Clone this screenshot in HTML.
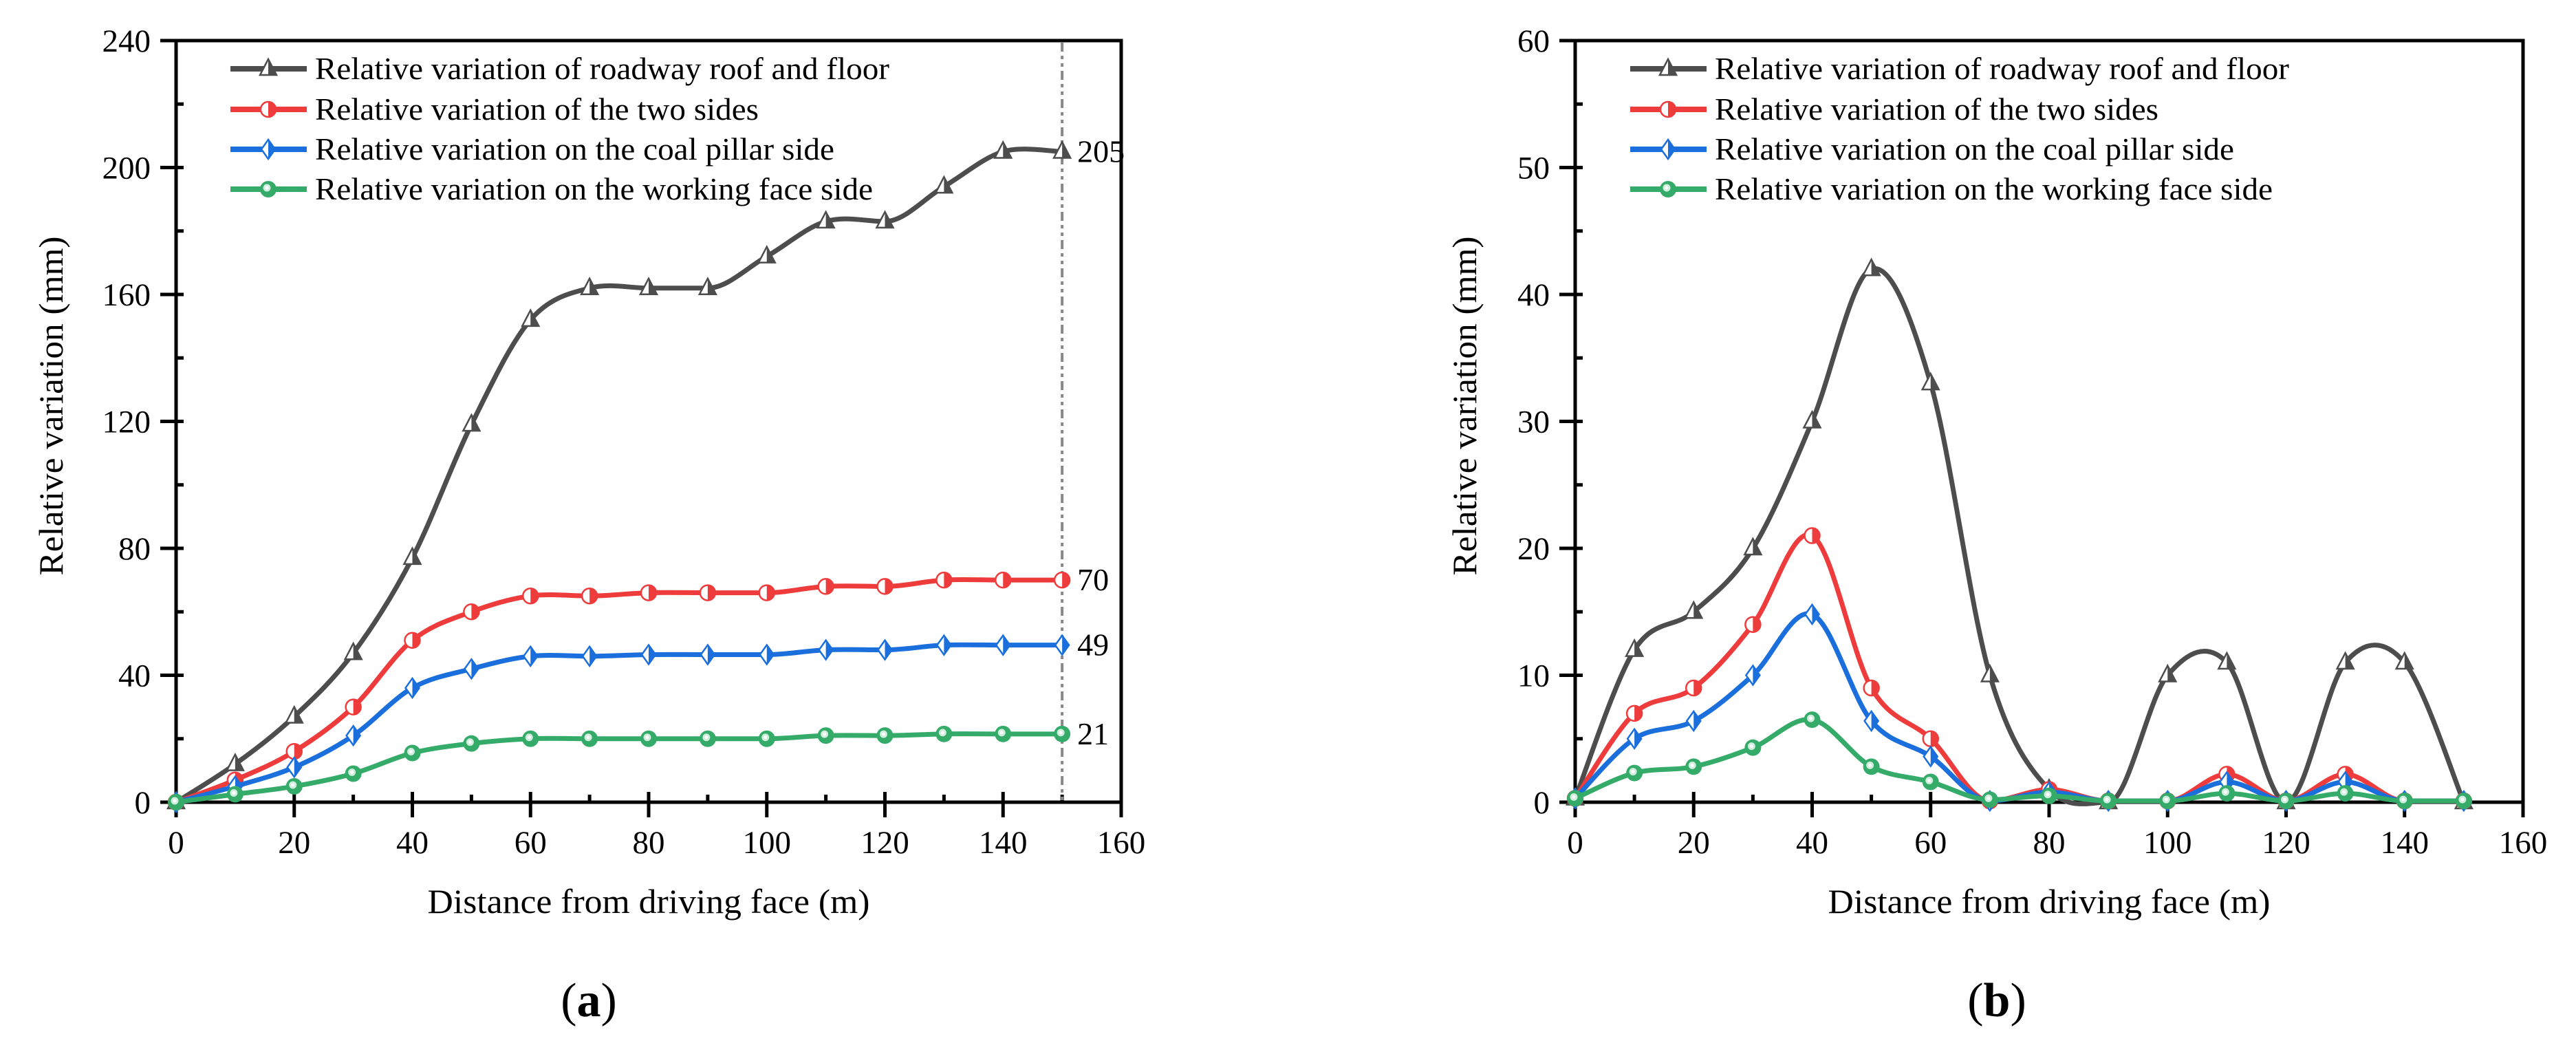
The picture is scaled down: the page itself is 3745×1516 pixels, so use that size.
<!DOCTYPE html>
<html><head><meta charset="utf-8">
<style>
html,body{margin:0;padding:0;background:#fff;}
svg{display:block;font-family:"Liberation Serif","DejaVu Serif",serif;}
</style></head>
<body>
<svg id="fig" width="3745" height="1516" viewBox="0 0 3745 1516" xmlns="http://www.w3.org/2000/svg">
<g id="chartA"></g>
<g id="chartB"></g>
</svg>
<script>
// ---- data ----
const distances = [0,10,20,30,40,50,60,70,80,90,100,110,120,130,140,150];
const aRoof = [0,12,27,47,77,119,152,162,162,162,172,183,183,194,205,205];
const aSides = [0,7,16,30,51,60,65,65,66,66,66,68,68,70,70,70];
const aCoal = [0,5,11,21,36,42,46,46,46.5,46.5,46.5,48,48,49.5,49.5,49.5];
const aWork = [0,2.5,5,9,15.5,18.5,20,20,20,20,20,21,21,21.5,21.5,21.5];
const aEndLabels = ["205","70","49","21"];
const bRoof = [0.3,12,15,20,30,42,33,10,1,0,10,11,0,11,11,0];
const bSides = [0.3,7,9,14,21,9,5,0.1,1,0.1,0.1,2.2,0.1,2.2,0.1,0.1];
const bCoal = [0.3,5,6.4,10,14.8,6.4,3.6,0.1,0.8,0.1,0.1,1.6,0.1,1.6,0.1,0.1];
const bWork = [0.3,2.3,2.8,4.3,6.5,2.8,1.6,0.2,0.5,0.1,0.1,0.7,0.1,0.7,0.1,0.1];
const xTicks = [0,20,40,60,80,100,120,140,160];
const aYTicks = [0,40,80,120,160,200,240];
const bYTicks = [0,10,20,30,40,50,60];
const legendLabels = ["Relative variation of roadway roof and floor","Relative variation of the two sides","Relative variation on the coal pillar side","Relative variation on the working face side"];

const NS="http://www.w3.org/2000/svg";
const COLORS=["#4d4d4d","#ee3b3b","#1b6fdc","#35ab69"];
const MARK=["tri","circ","diam","ball"];
const LEG_LEN=[835,645,755,811];
function mk(tag,attrs,parent){const e=document.createElementNS(NS,tag);for(const k in attrs)e.setAttribute(k,attrs[k]);parent.appendChild(e);return e;}

function marker(g,type,x,y,c){
  const m=document.createElementNS(NS,'g');
  
  
  g.appendChild(m);
  if(type==='tri'){
    mk('polygon',{points:`${x},${y-14} ${x+12},${y+9} ${x-12},${y+9}`,fill:'#fff',stroke:c,'stroke-width':2.5},m);
    mk('polygon',{points:`${x},${y-14} ${x+12},${y+9} ${x},${y+9}`,fill:c},m);
  }else if(type==='circ'){
    mk('circle',{cx:x,cy:y,r:11,fill:'#fff',stroke:c,'stroke-width':2.5},m);
    mk('path',{d:`M${x},${y-11} A11,11 0 0 1 ${x},${y+11} Z`,fill:c},m);
  }else if(type==='diam'){
    mk('polygon',{points:`${x},${y-14} ${x+10},${y} ${x},${y+14} ${x-10},${y}`,fill:'#fff',stroke:c,'stroke-width':2.5},m);
    mk('polygon',{points:`${x},${y-14} ${x+10},${y} ${x},${y+14}`,fill:c},m);
  }else{
    mk('circle',{cx:x,cy:y,r:12,fill:c},m);
    mk('circle',{cx:x-2,cy:y-2,r:5.5,fill:'#cfeedd'},m);
    mk('circle',{cx:x-2,cy:y-2,r:2.5,fill:'#fff'},m);
  }
}
function splinePath(pts){
  const n=pts.length;
  const tan=pts.map((p,i)=>{
    const p0=pts[Math.max(0,i-1)],p2=pts[Math.min(n-1,i+1)];
    // flat tangent at local minima (screen y larger = lower value)
    if(i>0&&i<n-1&&p[1]>=p0[1]&&p[1]>=p2[1]) return [(p2[0]-p0[0])/2,0];
    return [(p2[0]-p0[0])/2,(p2[1]-p0[1])/2];
  });
  let d=`M${pts[0][0]},${pts[0][1]}`;
  for(let i=0;i<n-1;i++){
    const p1=pts[i],p2=pts[i+1];
    const c1x=p1[0]+tan[i][0]/3,c1y=p1[1]+tan[i][1]/3;
    const c2x=p2[0]-tan[i+1][0]/3,c2y=p2[1]-tan[i+1][1]/3;
    d+=` C${c1x},${c1y} ${c2x},${c2y} ${p2[0]},${p2[1]}`;
  }
  return d;
}

function drawChart(g,cfg){
  const L=cfg.left,R=cfg.right,T=59,B=1166;
  const sx=v=>L+(v-0)/160*(R-L);
  const sy=v=>B-(v-0)/cfg.ymax*(B-T);
  for(let v=cfg.ystep/2; v<cfg.ymax; v+=cfg.ystep){
    const t=mk('line',{x1:L,x2:L+11,y1:sy(v),y2:sy(v),stroke:'#000','stroke-width':5},g);
    
    
  }
  for(let v=10; v<160; v+=20){
    const t=mk('line',{x1:sx(v),x2:sx(v),y1:B,y2:B-11,stroke:'#000','stroke-width':5},g);
    
    
  }
  cfg.yTicks.forEach(v=>{
    const t=mk('line',{x1:L-23,x2:L+11,y1:sy(v),y2:sy(v),stroke:'#000','stroke-width':5},g);
    
    
    const tx=mk('text',{x:L-37,y:sy(v)+16,'font-size':47,'text-anchor':'end',fill:'#000'},g);
    tx.textContent=v;
    
    
  });
  xTicks.forEach(v=>{
    const t=mk('line',{x1:sx(v),x2:sx(v),y1:B-15,y2:B+22,stroke:'#000','stroke-width':5},g);
    
    
    const tx=mk('text',{x:sx(v),y:1240,'font-size':47,'text-anchor':'middle',fill:'#000'},g);
    tx.textContent=v;
    
    
  });
  const f=mk('rect',{x:L,y:T,width:R-L,height:B-T,fill:'none',stroke:'#000','stroke-width':5},g);
  
  
  if(cfg.refLine){
    const rl=mk('line',{x1:sx(150),x2:sx(150),y1:T+3,y2:B,stroke:'#888','stroke-width':4,'stroke-dasharray':'13 6 5 6 5 6'},g);
    
    
  }
  const names=['series-roof-floor','series-two-sides','series-coal-pillar-side','series-working-face-side'];
  cfg.series.forEach((s,i)=>{
    const sg=mk('g',{},g);
    
    
    const pts=distances.map((d,j)=>[sx(d),sy(s[j])]);
    const p=mk('path',{d:splinePath(pts),fill:'none',stroke:COLORS[i],'stroke-width':7,'stroke-linejoin':'round'},sg);
    
    
    pts.forEach(pt=>marker(sg,MARK[i],pt[0],pt[1],COLORS[i]));
    if(cfg.endLabels){
      const el=mk('text',{x:sx(150)+22,y:sy(s[s.length-1])+15,'font-size':46,fill:'#000'},g);
      el.textContent=cfg.endLabels[i];
      
      
    }
  });
  const lg=mk('g',{},g);
  
  
  const rows=[100,159,217,275];
  legendLabels.forEach((lab,i)=>{
    const eg=mk('g',{},lg);
    
    
    mk('line',{x1:cfg.legX,x2:cfg.legX+111,y1:rows[i],y2:rows[i],stroke:COLORS[i],'stroke-width':8},eg);
    marker(eg,MARK[i],cfg.legX+55,rows[i],COLORS[i]);
    const t=mk('text',{x:cfg.legX+123,y:rows[i]+15,'font-size':46,fill:'#000',textLength:LEG_LEN[i],lengthAdjust:'spacingAndGlyphs'},eg);
    t.textContent=lab;
  });
  const xt=mk('text',{x:(L+R)/2,y:1327,'font-size':50,'text-anchor':'middle',textLength:643,lengthAdjust:'spacingAndGlyphs',fill:'#000'},g);
  xt.textContent='Distance from driving face (m)';
  
  
  const yt=mk('text',{x:0,y:0,'font-size':50,'text-anchor':'middle',textLength:493,lengthAdjust:'spacingAndGlyphs',fill:'#000',transform:`translate(${cfg.yTitleX},590) rotate(-90)`},g);
  yt.textContent='Relative variation (mm)';
  
  
  const cp=mk('text',{x:cfg.capX,y:1477,'font-size':70,'text-anchor':'middle',fill:'#000'},g);
  cp.innerHTML='(<tspan font-weight="bold">'+cfg.cap+'</tspan>)';
  
  
}

drawChart(document.getElementById('chartA'),{left:256,right:1630,ymax:240,ystep:40,yTicks:aYTicks,series:[aRoof,aSides,aCoal,aWork],endLabels:aEndLabels,refLine:true,legX:335,yTitleX:91,capX:856,cap:'a'});
drawChart(document.getElementById('chartB'),{left:2290,right:3668,ymax:60,ystep:10,yTicks:bYTicks,series:[bRoof,bSides,bCoal,bWork],endLabels:null,refLine:false,legX:2370,yTitleX:2146,capX:2903,cap:'b'});
</script>
</body></html>
